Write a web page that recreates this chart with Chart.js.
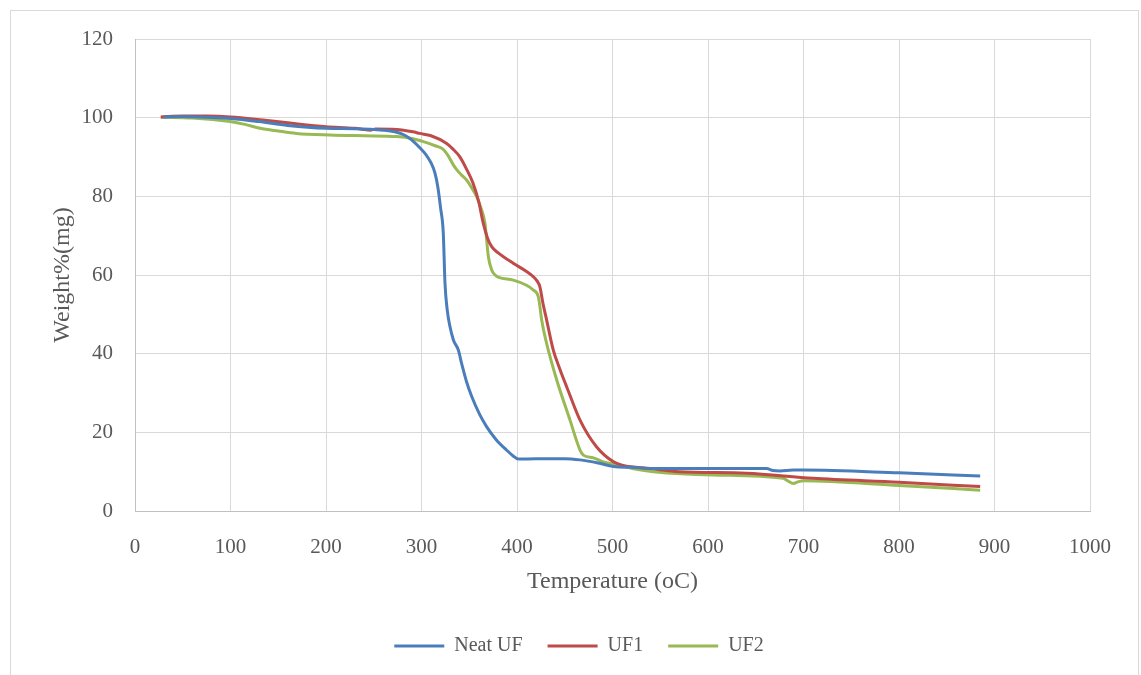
<!DOCTYPE html>
<html>
<head>
<meta charset="utf-8">
<script src="https://cdn.jsdelivr.net/npm/chart.js@4"></script>
<style>
html,body{margin:0;padding:0;background:#fff;overflow:hidden;}
#wrap{position:relative;width:1141px;height:675px;}
#frame{position:absolute;left:10px;top:10px;width:1129px;height:700px;border:1px solid #d9d9d9;box-sizing:border-box;pointer-events:none;}
canvas{position:absolute;left:0;top:0;}
</style>
</head>
<body>
<div id="wrap"><canvas id="c" width="1141" height="675"></canvas><div id="frame"></div></div>
<script>
// Series data (Temperature in °C, Weight %)
const neatT = [30, 50, 75, 100, 130, 160, 200, 230, 260, 272, 282, 290, 298, 305, 310, 314, 317, 320, 322.8, 324.6, 327, 329.8, 333.4, 338.6, 342, 347, 352.6, 361, 368.3, 378, 389, 396, 401.4, 420, 450, 466, 485, 501, 520, 542.6, 600, 661.4, 668, 675.4, 689.3, 700, 800, 885];
const neatW = [100.2, 100.3, 100.1, 99.8, 99, 98, 97.3, 97.2, 96.8, 96.4, 95.6, 94.3, 92.4, 90.5, 88.5, 86, 82.5, 77, 70.7, 57.9, 51, 46.9, 43.5, 40.9, 37.5, 33, 29.1, 24.5, 21.4, 18.2, 15.5, 14, 13.2, 13.3, 13.3, 13, 12.2, 11.3, 11.1, 10.8, 10.8, 10.8, 10.3, 10.2, 10.4, 10.4, 9.7, 8.9];

const uf1T = [27, 50, 75, 100, 134, 160, 200, 230, 240, 246, 252, 274, 291, 298, 310, 326, 333, 340, 347, 354, 360, 364.7, 369, 373.5, 380, 396, 410, 417, 421, 424, 427, 431, 438, 445, 452, 466, 483, 501, 511, 540, 570, 640, 710, 800, 885];
const uf1W = [100.2, 100.4, 100.4, 100.2, 99.4, 98.7, 97.7, 97.3, 97, 96.8, 97.1, 97, 96.4, 96, 95.4, 93.5, 92, 90.1, 87, 83.3, 78.5, 73.1, 69.5, 67.2, 65.7, 63, 60.9, 59.6, 58.5, 57, 53, 48.6, 40.9, 36, 31.6, 23.1, 16.4, 12.5, 11.6, 10.8, 10, 9.6, 8.3, 7.3, 6.2];

const uf2T = [27, 60, 99.5, 115, 131, 150, 169, 204, 240, 274, 290, 302, 315, 322.5, 328, 333.3, 336.8, 342, 347, 352, 357.8, 362, 366.5, 368, 370, 373.5, 377, 381, 396, 410, 417, 422.3, 424, 425.8, 431, 441.6, 455.5, 466, 469.5, 480, 490.4, 508, 525, 542.6, 605.6, 678.8, 684, 689.3, 694, 700, 800, 885];
const uf2W = [100.1, 99.9, 99, 98.3, 97.3, 96.6, 96, 95.6, 95.4, 95.2, 94.7, 93.9, 92.8, 92, 90.3, 88, 86.8, 85.4, 84.2, 82.4, 79.9, 77.2, 73.1, 69.5, 64.7, 61.3, 60, 59.4, 58.7, 57.4, 56.2, 54.5, 52, 48.6, 42.6, 33.3, 23.1, 15.5, 14.2, 13.5, 12.5, 11.6, 10.6, 10, 9.15, 8.3, 7.6, 7, 7.4, 7.7, 6.5, 5.3];

const seriesNames = ['Neat UF', 'UF1', 'UF2'];
const seriesColors = ['#4a7ebb', '#be4b48', '#98b954'];

const xTicks = [0, 100, 200, 300, 400, 500, 600, 700, 800, 900, 1000];
const yTicks = [0, 20, 40, 60, 80, 100, 120];

function pts(xs, ys){ return xs.map((x,i)=>({x:x, y:ys[i]})); }
const allT = [neatT, uf1T, uf2T];
const allW = [neatW, uf1W, uf2W];

const FONT = '"Liberation Serif", "Times New Roman", serif';
const TXT = '#595959';

const shiftLegend = {
  id: 'shiftLegend',
  afterLayout(chart){
    if (chart.legend){ chart.legend.left += 12; chart.legend.right += 12; }
  }
};

new Chart(document.getElementById('c'), {
  type: 'scatter',
  data: {
    datasets: seriesNames.map((n,i)=>({
      label: n,
      data: pts(allT[i], allW[i]),
      showLine: true,
      borderColor: seriesColors[i],
      backgroundColor: seriesColors[i],
      borderWidth: 3,
      pointRadius: 0,
      pointHoverRadius: 0,
      cubicInterpolationMode: 'monotone',
      fill: false
    }))
  },
  options: {
    responsive: false,
    animation: false,
    layout: { padding: { left: 44, right: 51, top: 39, bottom: 9 } },
    plugins: {
      tooltip: { enabled: false },
      legend: {
        position: 'bottom',
        labels: {
          font: { family: FONT, size: 20 },
          color: TXT,
          boxWidth: 50,
          boxHeight: 3,
          padding: 25,
          generateLabels(chart){
            return chart.data.datasets.map((d,i)=>({
              text: d.label,
              fillStyle: d.borderColor,
              strokeStyle: d.borderColor,
              lineWidth: 0,
              fontColor: TXT,
              datasetIndex: i,
              hidden: false
            }));
          }
        }
      }
    },
    scales: {
      x: {
        type: 'linear',
        min: 0, max: 1000,
        afterBuildTicks(scale){ scale.ticks = xTicks.map(v=>({value:v})); },
        afterFit(scale){ scale.height = 100; },
        grid: { color: '#d9d9d9', drawTicks: false, lineWidth: 1 },
        border: { color: '#c0c0c0', width: 1 },
        ticks: { font: { family: FONT, size: 21 }, color: TXT, padding: 24, maxRotation: 0,
                 callback: v => String(v) },
        title: { display: true, text: 'Temperature (oC)', font: { family: FONT, size: 24 }, color: TXT,
                 padding: { top: 4, bottom: 15 } }
      },
      y: {
        type: 'linear',
        min: 0, max: 120,
        afterBuildTicks(scale){ scale.ticks = yTicks.map(v=>({value:v})); },
        afterFit(scale){ scale.width = 91; },
        grid: { color: '#d9d9d9', drawTicks: false, lineWidth: 1 },
        border: { color: '#c0c0c0', width: 1 },
        ticks: { font: { family: FONT, size: 21 }, color: TXT, padding: 22, callback: v => String(v) },
        title: { display: true, text: 'Weight%(mg)', font: { family: FONT, size: 24 }, color: TXT }
      }
    }
  },
  plugins: [shiftLegend]
});
</script>
</body>
</html>
